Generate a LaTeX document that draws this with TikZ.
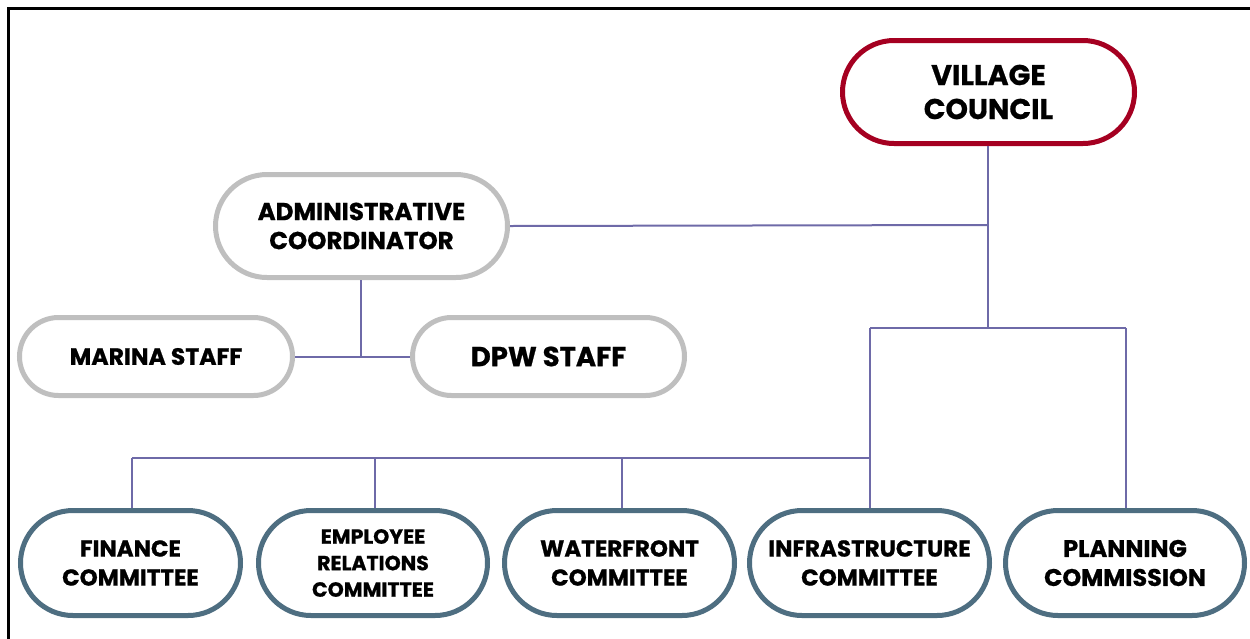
\documentclass[tikz,border=0pt]{standalone}
\usepackage{fontspec}
\setmainfont{Poppins}[BoldFeatures={FakeBold=0.8}]
\definecolor{vcred}{HTML}{A50021}
\definecolor{admgray}{HTML}{BFBFBF}
\definecolor{comblue}{HTML}{4E6E81}
\definecolor{linepurple}{HTML}{6E6AA8}
\tikzset{
  pill/.style={draw, line width=5pt, fill=white, align=center, inner sep=0pt, font=\bfseries},
  vcbox/.style={pill, draw=vcred, minimum width=292pt, minimum height=103pt, rounded corners=51.5pt},
  admbox/.style={pill, draw=admgray, minimum width=292pt, minimum height=103pt, rounded corners=51.5pt},
  staffbox/.style={pill, draw=admgray, minimum width=273pt, minimum height=78pt, rounded corners=39pt},
  combox/.style={pill, draw=comblue, minimum height=105pt, rounded corners=52.5pt},
  conn/.style={draw=linepurple, line width=2pt},
}
\begin{document}
\begin{tikzpicture}[x=1pt,y=-1pt]
\useasboundingbox (0,0) rectangle (1250,638);
\draw[line width=3pt, line cap=rect] (8,638) -- (8,8) -- (1250,8);

\coordinate (vcj) at (988,328);
\coordinate (admj) at (988,225);
\coordinate (lj) at (870,328);
\coordinate (rj) at (1126,328);
\coordinate (bj) at (870,458);
\coordinate (fj) at (132,458);
\coordinate (ej) at (375,458);
\coordinate (wj) at (622,458);
\coordinate (sj) at (361,356.5);

\node[vcbox, font=\bfseries\fontsize{28.5}{34}\selectfont] (vc) at (988.5,92) {VILLAGE\\COUNCIL};
\node[admbox, font=\bfseries\fontsize{24.5}{29}\selectfont] (adm) at (361.5,226) {ADMINISTRATIVE\\COORDINATOR};
\node[staffbox, font=\bfseries\fontsize{23.5}{26}\selectfont] (mar) at (156,356.5) {MARINA STAFF};
\node[staffbox, minimum width=272pt, font=\bfseries\fontsize{27.5}{30}\selectfont] (dpw) at (548.5,356.5) {DPW STAFF};

\node[combox, minimum width=220pt, font=\bfseries\fontsize{23}{29}\selectfont] (fin) at (130.5,563) {FINANCE\\COMMITTEE};
\node[combox, minimum width=229pt, font=\bfseries\fontsize{20.5}{26.5}\selectfont] (emp) at (373,563) {EMPLOYEE\\RELATIONS\\COMMITTEE};
\node[combox, minimum width=230pt, font=\bfseries\fontsize{23}{29}\selectfont] (wat) at (619.5,563) {WATERFRONT\\COMMITTEE};
\node[combox, minimum width=240pt, font=\bfseries\fontsize{23}{29}\selectfont] (inf) at (869.5,563) {INFRASTRUCTURE\\COMMITTEE};
\node[combox, minimum width=239pt, font=\bfseries\fontsize{24}{29}\selectfont] (pla) at (1125,563) {PLANNING\\COMMISSION};

\draw[conn, line width=2.5pt] (vc.south -| vcj) -- (vcj);
\draw[conn] (adm.east) -- (admj);
\draw[conn] (lj) -- (rj);
\draw[conn] (rj) -- (pla.north -| rj);
\draw[conn] (lj) -- (inf.north -| lj);
\draw[conn] (fj) -- (bj);
\draw[conn] (fj) -- (fin.north -| fj);
\draw[conn] (ej) -- (emp.north -| ej);
\draw[conn] (wj) -- (wat.north -| wj);
\draw[conn] (adm.south -| sj) -- (sj);
\draw[conn] (mar.east) -- (dpw.west);
\end{tikzpicture}
\end{document}
